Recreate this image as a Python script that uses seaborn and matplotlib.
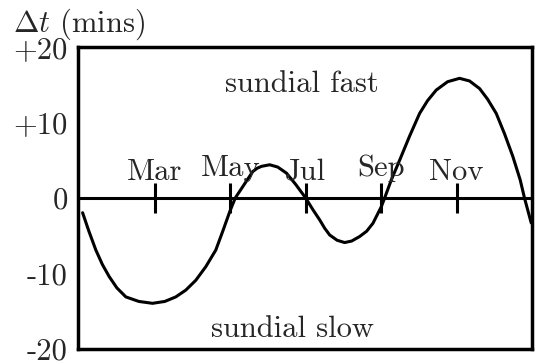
import matplotlib
matplotlib.use('Agg')
import matplotlib.pyplot as plt
import seaborn as sns

# equation of time (x in months from 1 Jan, y in minutes)
months = [0.085, 0.252, 0.437, 0.609, 0.789, 0.993, 1.232, 1.576, 1.939, 2.265,
          2.556, 2.821, 3.086, 3.351, 3.616, 3.801, 3.987, 4.132, 4.596, 4.715,
          4.834, 5.046, 5.258, 5.489, 5.735, 6.000, 6.185, 6.371, 6.503, 6.636,
          6.834, 7.033, 7.219, 7.431, 7.616, 7.783, 8.005, 8.093, 8.270, 8.490,
          8.755, 9.020, 9.232, 9.462, 9.762, 10.079, 10.344, 10.609, 10.821, 11.052,
          11.272, 11.492, 11.687, 11.801, 11.979]
delta_t = [-1.95, -4.4, -6.9, -8.8, -10.4, -11.9, -13.1, -13.7, -13.95, -13.7,
           -13.1, -12.2, -10.9, -9.1, -6.9, -4.4, -1.8, 0.0, 3.5, 3.95,
           4.2, 4.4, 4.1, 3.3, 1.8, 0.0, -1.5, -2.9, -4.0, -4.9,
           -5.6, -5.9, -5.7, -5.1, -4.4, -3.35, -1.15, 0.0, 2.4, 5.0,
           8.2, 11.2, 12.9, 14.3, 15.4, 15.85, 15.5, 14.5, 13.1, 11.2,
           8.5, 5.5, 2.4, 0.0, -3.3]

month_ticks = [2, 4, 6, 8, 10]
month_labels = ['Mar', 'May', 'Jul', 'Sep', 'Nov']
y_ticks = [20, 10, 0, -10, -20]
y_labels = ['+20', '+10', '0', '-10', '-20']

sns.set_style('white')
plt.rcParams['font.family'] = ['cmr10', 'DejaVu Serif']
plt.rcParams['mathtext.fontset'] = 'cm'
plt.rcParams['axes.unicode_minus'] = False
fs = 22

fig = plt.figure(figsize=(5.43, 3.64), dpi=100)
ax = fig.add_axes([77.5 / 543, 1 - 349 / 364, (532 - 77.5) / 543, (349 - 47) / 364])

ax.axhline(0, color='black', lw=2.2, zorder=1)
ax.vlines(month_ticks, -2.0, 2.0, color='black', lw=2.2, zorder=1)
sns.lineplot(x=months, y=delta_t, sort=False, color='black', lw=2.2, ax=ax, zorder=2)

for m, lab in zip(month_ticks, month_labels):
    # labels with descenders sit a little higher
    yy = 2.85 if any(c in 'gjpqy' for c in lab) else 2.4
    ax.text(m, yy, lab, ha='center', va='baseline', fontsize=fs)

ax.text(5.9, 14.0, 'sundial fast', ha='center', va='baseline', fontsize=fs)
ax.text(5.64, -18.45, 'sundial slow', ha='center', va='baseline', fontsize=fs)

ax.set_xlim(-0.05, 12.0)
ax.set_ylim(-20, 20)
ax.set_xticks([])
ax.set_yticks(y_ticks)
ax.set_yticklabels(y_labels)
ax.tick_params(axis='y', length=0, pad=7, labelsize=fs)
for sp in ax.spines.values():
    sp.set_linewidth(2.5)
    sp.set_color('black')

fig.text(13 / 543, 1 - 32 / 364, r'$\Delta t$ (mins)', ha='left', va='baseline', fontsize=fs)

fig.savefig('out.png', dpi=100)
